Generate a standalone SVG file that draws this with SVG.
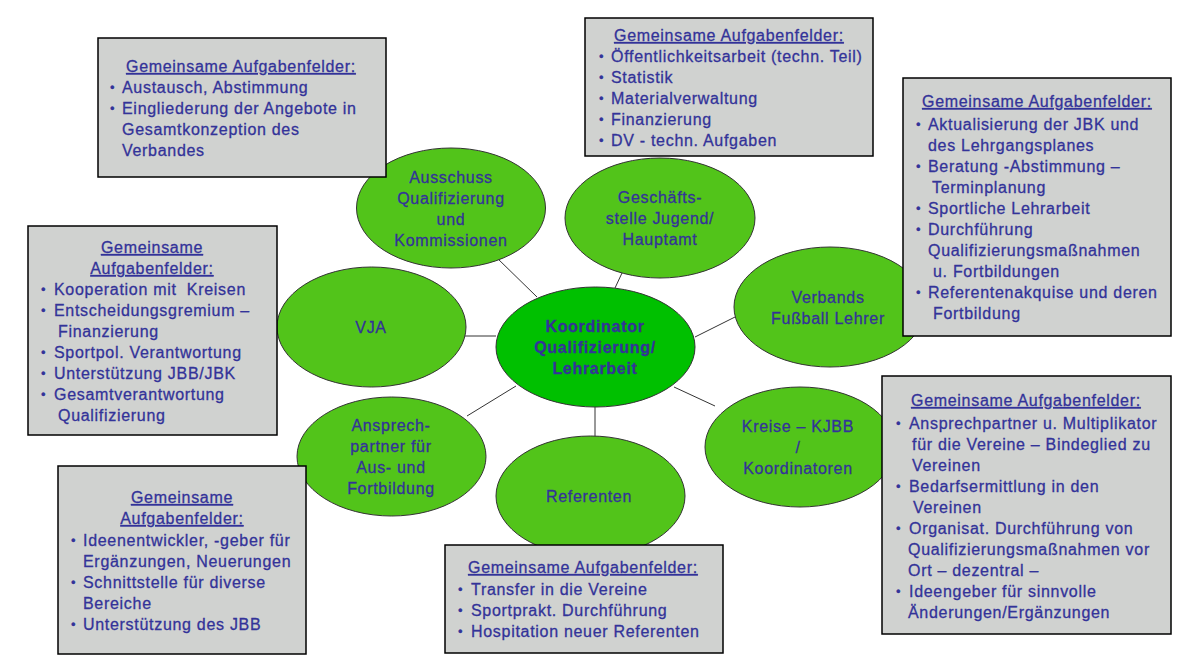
<svg xmlns="http://www.w3.org/2000/svg" width="1187" height="665" viewBox="0 0 1187 665">
<style>
.t{font-family:"Liberation Sans",Arial,sans-serif;font-size:16px;fill:#333399;stroke:#333399;stroke-width:0.3;letter-spacing:0.7px}
.c{text-anchor:middle}
.b{font-weight:bold}
.u{text-decoration:underline}
.bu{font-size:13px;letter-spacing:0}
.box{fill:#d0d2d0;stroke:#000;stroke-width:1.5}
.el{fill:#52c41a;stroke:#333;stroke-width:1}
.ctr{fill:#00c000;stroke:#333;stroke-width:1}
.ln{stroke:#333;stroke-width:1;fill:none}
</style>
<rect width="1187" height="665" fill="#fff"/>
<g id="connectors">
<line class="ln" x1="496" y1="257" x2="537" y2="297"/>
<line class="ln" x1="622" y1="273" x2="615" y2="288"/>
<line class="ln" x1="465" y1="336" x2="496" y2="336"/>
<line class="ln" x1="695" y1="337" x2="735" y2="317"/>
<line class="ln" x1="674" y1="387" x2="715" y2="406"/>
<line class="ln" x1="516" y1="386" x2="467" y2="416"/>
<line class="ln" x1="595" y1="407" x2="595" y2="437"/>
</g>
<g id="ausschuss">
<ellipse class="el" cx="451" cy="208" rx="94.5" ry="60"/>
<text class="t c"><tspan x="451" y="183">Ausschuss</tspan><tspan x="451" y="204">Qualifizierung</tspan><tspan x="451" y="225">und</tspan><tspan x="451" y="246">Kommissionen</tspan></text>
</g>
<g id="geschaeftsstelle">
<ellipse class="el" cx="660" cy="218" rx="95" ry="60"/>
<text class="t c"><tspan x="660" y="203">Geschäfts-</tspan><tspan x="660" y="224">stelle Jugend/</tspan><tspan x="660" y="245">Hauptamt</tspan></text>
</g>
<g id="vja">
<ellipse class="el" cx="371.5" cy="327" rx="94.5" ry="60"/>
<text class="t c" x="371" y="333">VJA</text>
</g>
<g id="verbands">
<ellipse class="el" cx="830" cy="307" rx="96" ry="60"/>
<text class="t c"><tspan x="828" y="303">Verbands</tspan><tspan x="828" y="324">Fußball Lehrer</tspan></text>
</g>
<g id="kreise">
<ellipse class="el" cx="800" cy="447" rx="95" ry="60"/>
<text class="t c"><tspan x="798" y="432">Kreise – KJBB</tspan><tspan x="798" y="453">/</tspan><tspan x="798" y="474">Koordinatoren</tspan></text>
</g>
<g id="ansprechpartner">
<ellipse class="el" cx="391.5" cy="456.5" rx="94.5" ry="59.5"/>
<text class="t c"><tspan x="391" y="431">Ansprech-</tspan><tspan x="391" y="452">partner für</tspan><tspan x="391" y="473">Aus- und</tspan><tspan x="391" y="494">Fortbildung</tspan></text>
</g>
<g id="referenten">
<ellipse class="el" cx="590.5" cy="496" rx="94.5" ry="60"/>
<text class="t c" x="589" y="502">Referenten</text>
</g>
<g id="koordinator">
<ellipse class="ctr" cx="595.5" cy="347" rx="99.5" ry="60"/>
<text class="t c b"><tspan x="595" y="332">Koordinator</tspan><tspan x="595" y="353">Qualifizierung/</tspan><tspan x="595" y="374">Lehrarbeit</tspan></text>
</g>
<g id="box-ausschuss">
<rect class="box" x="98" y="38" width="288" height="139"/>
<text class="t"><tspan class="u" x="126" y="72">Gemeinsame Aufgabenfelder:</tspan>
<tspan class="bu" x="110" y="92">•</tspan><tspan x="122" y="93">Austausch, Abstimmung</tspan>
<tspan class="bu" x="110" y="113">•</tspan><tspan x="122" y="114">Eingliederung der Angebote in</tspan>
<tspan x="122" y="135">Gesamtkonzeption des</tspan>
<tspan x="122" y="156">Verbandes</tspan></text>
</g>
<g id="box-geschaeftsstelle">
<rect class="box" x="585" y="18" width="288" height="138"/>
<text class="t"><tspan class="u" x="614" y="41">Gemeinsame Aufgabenfelder:</tspan>
<tspan class="bu" x="599" y="61">•</tspan><tspan x="611" y="62">Öffentlichkeitsarbeit (techn. Teil)</tspan>
<tspan class="bu" x="599" y="82">•</tspan><tspan x="611" y="83">Statistik</tspan>
<tspan class="bu" x="599" y="103">•</tspan><tspan x="611" y="104">Materialverwaltung</tspan>
<tspan class="bu" x="599" y="124">•</tspan><tspan x="611" y="125">Finanzierung</tspan>
<tspan class="bu" x="599" y="145">•</tspan><tspan x="611" y="146">DV - techn. Aufgaben</tspan></text>
</g>
<g id="box-verbands">
<rect class="box" x="903" y="78" width="268" height="258"/>
<text class="t"><tspan class="u" x="922" y="107">Gemeinsame Aufgabenfelder:</tspan>
<tspan class="bu" x="916" y="129">•</tspan><tspan x="928" y="130">Aktualisierung der JBK und</tspan>
<tspan x="928" y="151">des Lehrgangsplanes</tspan>
<tspan class="bu" x="916" y="171">•</tspan><tspan x="928" y="172">Beratung -Abstimmung –</tspan>
<tspan x="932" y="193">Terminplanung</tspan>
<tspan class="bu" x="916" y="213">•</tspan><tspan x="928" y="214">Sportliche Lehrarbeit</tspan>
<tspan class="bu" x="916" y="234">•</tspan><tspan x="928" y="235">Durchführung</tspan>
<tspan x="928" y="256">Qualifizierungsmaßnahmen</tspan>
<tspan x="933" y="277">u. Fortbildungen</tspan>
<tspan class="bu" x="916" y="297">•</tspan><tspan x="928" y="298">Referentenakquise und deren</tspan>
<tspan x="933" y="319">Fortbildung</tspan></text>
</g>
<g id="box-vja">
<rect class="box" x="28" y="226" width="249" height="209"/>
<text class="t c u"><tspan x="152" y="253">Gemeinsame</tspan><tspan x="152" y="274">Aufgabenfelder:</tspan></text>
<text class="t"><tspan class="bu" x="41" y="294">•</tspan><tspan x="54" y="295">Kooperation mit&#160; Kreisen</tspan>
<tspan class="bu" x="41" y="315">•</tspan><tspan x="54" y="316">Entscheidungsgremium –</tspan>
<tspan x="58" y="337">Finanzierung</tspan>
<tspan class="bu" x="41" y="357">•</tspan><tspan x="54" y="358">Sportpol. Verantwortung</tspan>
<tspan class="bu" x="41" y="378">•</tspan><tspan x="54" y="379">Unterstützung JBB/JBK</tspan>
<tspan class="bu" x="41" y="399">•</tspan><tspan x="54" y="400">Gesamtverantwortung</tspan>
<tspan x="58" y="421">Qualifizierung</tspan></text>
</g>
<g id="box-ansprechpartner">
<rect class="box" x="58" y="466" width="248" height="188"/>
<text class="t c u"><tspan x="182" y="503">Gemeinsame</tspan><tspan x="182" y="524">Aufgabenfelder:</tspan></text>
<text class="t"><tspan class="bu" x="71" y="545">•</tspan><tspan x="83" y="546">Ideenentwickler, -geber für</tspan>
<tspan x="83" y="567">Ergänzungen, Neuerungen</tspan>
<tspan class="bu" x="71" y="587">•</tspan><tspan x="83" y="588">Schnittstelle für diverse</tspan>
<tspan x="83" y="609">Bereiche</tspan>
<tspan class="bu" x="71" y="629">•</tspan><tspan x="83" y="630">Unterstützung des JBB</tspan></text>
</g>
<g id="box-referenten">
<rect class="box" x="445" y="545" width="278" height="108"/>
<text class="t"><tspan class="u" x="468" y="573">Gemeinsame Aufgabenfelder:</tspan>
<tspan class="bu" x="458" y="594">•</tspan><tspan x="471" y="595">Transfer in die Vereine</tspan>
<tspan class="bu" x="458" y="615">•</tspan><tspan x="471" y="616">Sportprakt. Durchführung</tspan>
<tspan class="bu" x="458" y="636">•</tspan><tspan x="471" y="637">Hospitation neuer Referenten</tspan></text>
</g>
<g id="box-kreise">
<rect class="box" x="882" y="376" width="289" height="258"/>
<text class="t"><tspan class="u" x="911" y="406">Gemeinsame Aufgabenfelder:</tspan>
<tspan class="bu" x="896" y="428">•</tspan><tspan x="909" y="429">Ansprechpartner u. Multiplikator</tspan>
<tspan x="912" y="450">für die Vereine – Bindeglied zu</tspan>
<tspan x="912" y="471">Vereinen</tspan>
<tspan class="bu" x="896" y="491">•</tspan><tspan x="909" y="492">Bedarfsermittlung in den</tspan>
<tspan x="913" y="513">Vereinen</tspan>
<tspan class="bu" x="896" y="533">•</tspan><tspan x="909" y="534">Organisat. Durchführung von</tspan>
<tspan x="908" y="555">Qualifizierungsmaßnahmen vor</tspan>
<tspan x="908" y="576">Ort – dezentral –</tspan>
<tspan class="bu" x="896" y="596">•</tspan><tspan x="909" y="597">Ideengeber für sinnvolle</tspan>
<tspan x="908" y="618">Änderungen/Ergänzungen</tspan></text>
</g>
</svg>
